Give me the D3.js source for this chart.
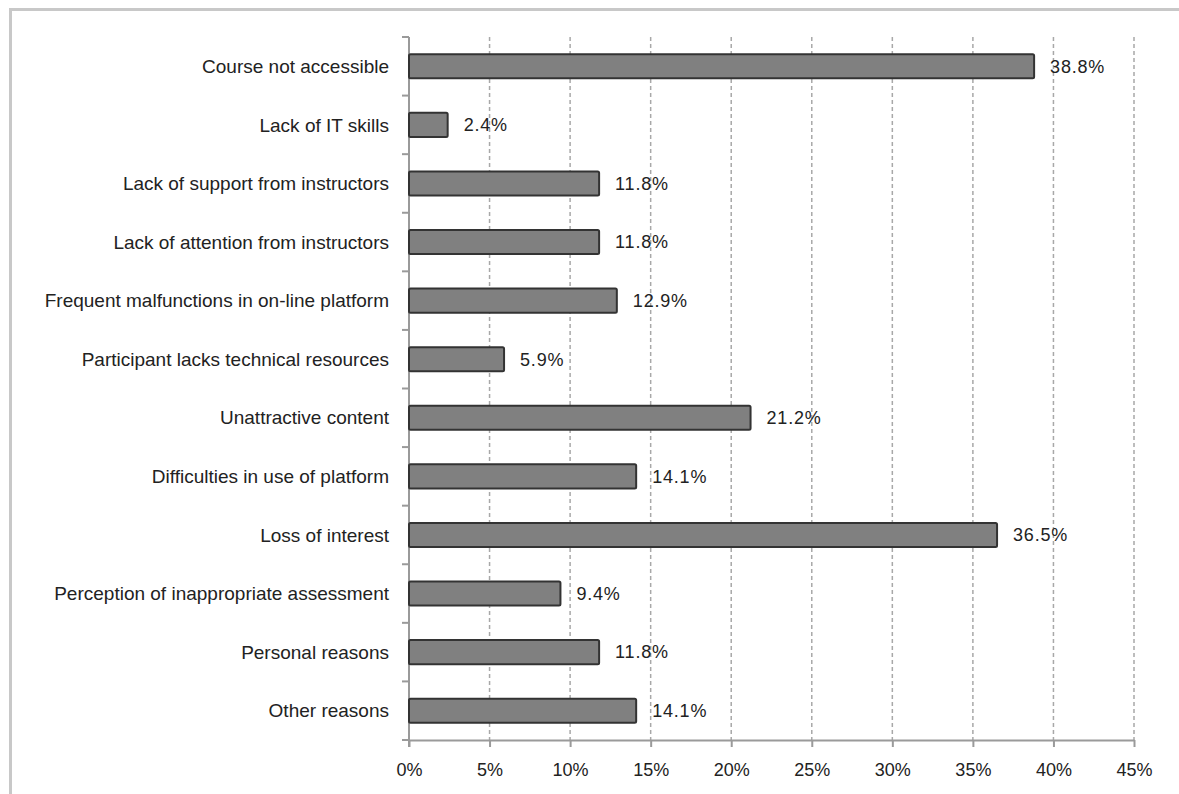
<!DOCTYPE html>
<html>
<head>
<meta charset="utf-8">
<script src="https://cdn.jsdelivr.net/npm/d3@7"></script>
<style>
  body { margin: 0; background: #fff; }
  text { font-family: "Liberation Sans", Arial, sans-serif; fill: #222; }
</style>
</head>
<body>
<svg id="chart" width="1179" height="794"></svg>
<script>
var marge = {haut: 37, droite: 45, bas: 54, gauche: 409};
var largeur = 1179, hauteur = 794;

const raisons = ['Course not accessible', 'Lack of IT skills', 'Lack of support from instructors',
  'Lack of attention from instructors', 'Frequent malfunctions in on-line platform',
  'Participant lacks technical resources', 'Unattractive content', 'Difficulties in use of platform',
  'Loss of interest', 'Perception of inappropriate assessment', 'Personal reasons', 'Other reasons'];
const pourcentages = [38.8, 2.4, 11.8, 11.8, 12.9, 5.9, 21.2, 14.1, 36.5, 9.4, 11.8, 14.1];
const graduations = [0, 5, 10, 15, 20, 25, 30, 35, 40, 45];

const svg = d3.select('#chart');

// cadre gris
svg.append('rect').attr('x', 10.5).attr('y', 9.5).attr('width', 1190).attr('height', 800)
  .attr('fill', 'none').attr('stroke', '#c8c8c8').attr('stroke-width', 3);

var xScale = d3.scaleLinear().domain([0, 45]).range([marge.gauche, 1134]);
var yScale = d3.scaleBand().domain(raisons).range([marge.haut, 740]).paddingInner(0.59).paddingOuter(0.295);
var bas = 740;

// grille pointillée
svg.append('g').selectAll('line').data(graduations.slice(1)).enter().append('line')
  .attr('x1', d => xScale(d)).attr('x2', d => xScale(d))
  .attr('y1', marge.haut).attr('y2', bas)
  .attr('stroke', '#a8a8a8').attr('stroke-width', 1.5).attr('stroke-dasharray', '4,3');

// axe X
var axeX = svg.append('g').attr('transform', `translate(0,${bas})`)
  .call(d3.axisBottom(xScale).tickValues(graduations).tickFormat(d => d + '%').tickSize(7).tickPadding(16).tickSizeOuter(0));
axeX.select('.domain').attr('stroke', '#9a9a9a').attr('stroke-width', 2);
axeX.selectAll('.tick line').attr('stroke', '#9a9a9a').attr('stroke-width', 2);
axeX.selectAll('text').attr('font-size', 18).style('font-family', '"Liberation Sans", Arial, sans-serif').attr('fill', '#222');

// axe Y
var pas = (bas - marge.haut) / raisons.length;
var axeY = svg.append('g');
axeY.append('line').attr('x1', marge.gauche).attr('x2', marge.gauche)
  .attr('y1', marge.haut).attr('y2', bas + 7).attr('stroke', '#9a9a9a').attr('stroke-width', 2);
axeY.selectAll('line.tk').data(d3.range(raisons.length + 1)).enter().append('line').attr('class', 'tk')
  .attr('x1', marge.gauche - 7).attr('x2', marge.gauche)
  .attr('y1', i => marge.haut + i * pas).attr('y2', i => marge.haut + i * pas)
  .attr('stroke', '#9a9a9a').attr('stroke-width', 2);
axeY.selectAll('text').data(raisons).enter().append('text')
  .attr('x', marge.gauche - 20).attr('y', d => yScale(d) + yScale.bandwidth() / 2)
  .attr('dy', '0.35em').attr('text-anchor', 'end').attr('font-size', 19).text(d => d);

// barres
svg.append('g').selectAll('rect').data(pourcentages).enter().append('rect')
  .attr('x', xScale(0)).attr('y', (d, i) => yScale(raisons[i]))
  .attr('width', d => xScale(d) - xScale(0)).attr('height', yScale.bandwidth())
  .attr('rx', 1.5)
  .attr('fill', '#808080').attr('stroke', '#333').attr('stroke-width', 2);

// étiquettes
svg.append('g').selectAll('text').data(pourcentages).enter().append('text')
  .attr('x', d => xScale(d) + 16).attr('y', (d, i) => yScale(raisons[i]) + yScale.bandwidth() / 2)
  .attr('dy', '0.35em').attr('font-size', 18).attr('letter-spacing', 0.8).text(d => d.toFixed(1) + '%');
</script>
</body>
</html>
